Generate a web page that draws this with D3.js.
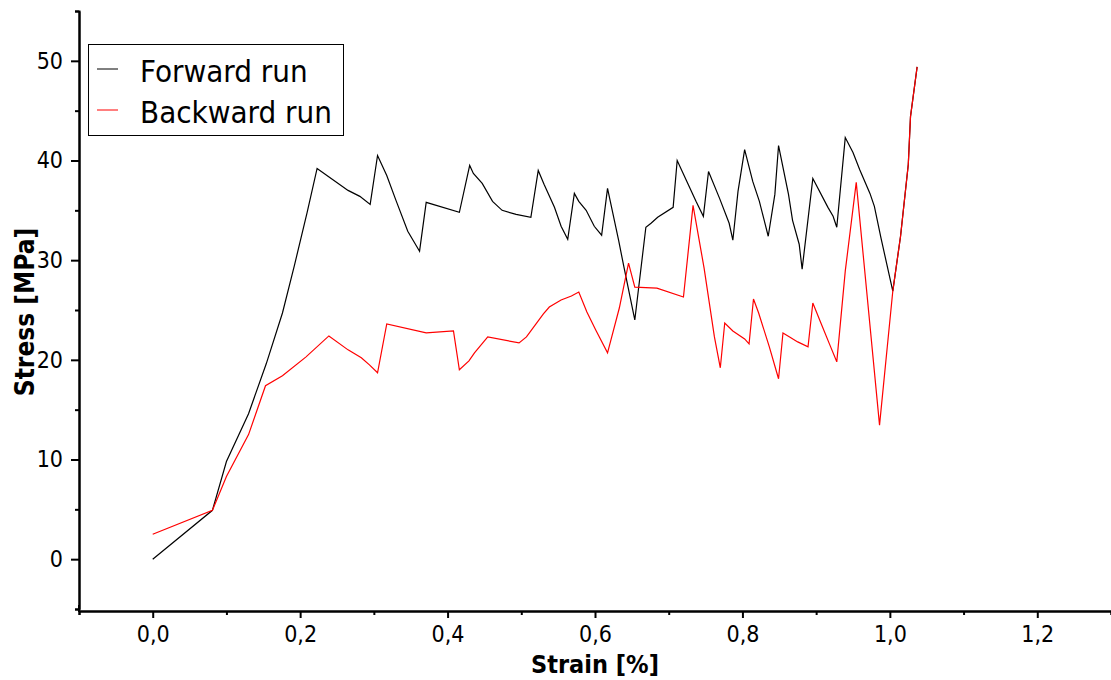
<!DOCTYPE html>
<html>
<head>
<meta charset="utf-8">
<script src="https://cdn.jsdelivr.net/npm/d3@7"></script>
<style>
  body { margin: 0; background: #fff; }
  svg { display: block; font-family: "DejaVu Sans Condensed", "DejaVu Sans", sans-serif; }
</style>
</head>
<body>
<div id="chart"></div>
<script>
// stress-strain curves, forward and backward run
var forwardStrain = [0, 0.081, 0.100, 0.130, 0.154, 0.176, 0.192, 0.2095, 0.223, 0.244, 0.265, 0.281, 0.295,
  0.305, 0.3175, 0.330, 0.346, 0.362, 0.371, 0.416, 0.430, 0.435, 0.447, 0.461, 0.474, 0.493, 0.513,
  0.523, 0.531, 0.545, 0.554, 0.563, 0.572, 0.578, 0.588, 0.599, 0.609, 0.617, 0.632, 0.639, 0.654,
  0.669, 0.676, 0.685, 0.706, 0.7115, 0.724, 0.737, 0.747, 0.754, 0.769, 0.782, 0.787, 0.794, 0.803,
  0.814, 0.823, 0.835, 0.844, 0.849, 0.8625, 0.868, 0.877, 0.881, 0.8955, 0.916, 0.923, 0.928, 0.9395,
  0.950, 0.959, 0.973, 0.979, 0.988, 1.004, 1.0145, 1.025, 1.028, 1.037];
var forwardStress = [0, 4.9, 9.8, 14.6, 19.6, 24.7, 29.4, 34.8, 39.2, 38.1, 37.0, 36.4, 35.6,
  40.5, 38.5, 36.0, 32.9, 30.9, 35.8, 34.8, 39.5, 38.7, 37.7, 35.9, 35.0, 34.6, 34.3,
  39.0, 37.6, 35.3, 33.4, 32.1, 36.7, 35.9, 35.0, 33.4, 32.5, 37.2, 32.0, 29.4, 24.0,
  33.3, 33.7, 34.3, 35.3, 40.0, 38.0, 35.9, 34.4, 38.9, 36.2, 33.7, 32.0, 36.9, 41.1,
  37.9, 35.9, 32.4, 36.6, 41.5, 36.6, 34.0, 31.6, 29.1, 38.2, 35.3, 34.4, 33.3, 42.3,
  40.8, 39.1, 36.7, 35.4, 32.2, 26.9, 32.4, 39.6, 44.4, 49.4];

var backwardStrain = [0, 0.081, 0.100, 0.130, 0.153, 0.176, 0.208, 0.239, 0.265, 0.283, 0.294, 0.305,
  0.3175, 0.371, 0.408, 0.416, 0.429, 0.4365, 0.4545, 0.497, 0.507, 0.522, 0.530, 0.538, 0.554, 0.568,
  0.578, 0.589, 0.601, 0.617, 0.633, 0.6455, 0.654, 0.684, 0.720, 0.733, 0.748, 0.762, 0.770, 0.776,
  0.787, 0.803, 0.809, 0.815, 0.822, 0.8365, 0.849, 0.855, 0.864, 0.875, 0.889, 0.8955, 0.907, 0.918,
  0.928, 0.9395, 0.9544, 0.986, 1.004, 1.0145, 1.025, 1.028, 1.037];
var backwardStress = [2.5, 4.9, 8.3, 12.5, 17.4, 18.4, 20.3, 22.4, 21.0, 20.2, 19.5, 18.7,
  23.6, 22.7, 22.9, 19.0, 19.9, 20.7, 22.3, 21.7, 22.3, 23.8, 24.6, 25.3, 26.0, 26.4,
  26.8, 24.8, 23.0, 20.7, 25.2, 29.7, 27.3, 27.2, 26.3, 35.5, 29.2, 22.3, 19.2, 23.7,
  22.9, 22.1, 21.6, 26.1, 24.7, 21.3, 18.1, 22.7, 22.3, 21.8, 21.3, 25.7, 23.6, 21.6,
  19.8, 28.9, 37.8, 13.45, 26.9, 32.4, 39.6, 44.4, 49.4];

var seriesNames = ["Forward run", "Backward run"];
var seriesColors = ["#000000", "#ff0000"];

var xMajor = [0, 0.2, 0.4, 0.6, 0.8, 1.0, 1.2];
var xMinor = [-0.1, 0.1, 0.3, 0.5, 0.7, 0.9, 1.1, 1.3];
var yMajor = [0, 10, 20, 30, 40, 50];
var yMinor = [-5, 5, 15, 25, 35, 45, 55];

var width = 1111, height = 680;

var svg = d3.select("#chart").append("svg")
  .attr("width", width)
  .attr("height", height);

var x = d3.scaleLinear().domain([-0.1, 1.3]).range([79, 1111]);
var y = d3.scaleLinear().domain([-5, 55]).range([609, 11]);

var comma = d3.formatLocale({ decimal: ",", thousands: ".", grouping: [3], currency: ["", ""] });
var fmtX = comma.format(".1f");

// minor ticks first, then the labelled ones
svg.append("g")
  .attr("transform", "translate(0,611)")
  .call(d3.axisBottom(x).tickValues(xMinor).tickSize(4).tickFormat(""));
svg.append("g")
  .attr("class", "xaxis")
  .attr("transform", "translate(0,611)")
  .call(d3.axisBottom(x).tickValues(xMajor).tickSize(7).tickSizeOuter(0).tickPadding(8).tickFormat(fmtX));

svg.append("g")
  .attr("transform", "translate(79,0)")
  .call(d3.axisLeft(y).tickValues(yMinor).tickSize(4).tickFormat(""));
svg.append("g")
  .attr("class", "yaxis")
  .attr("transform", "translate(79,0)")
  .call(d3.axisLeft(y).tickValues(yMajor).tickSize(8).tickSizeOuter(0).tickPadding(8));

svg.selectAll(".domain").attr("stroke", "#000").attr("stroke-width", 2);
svg.selectAll(".tick line").attr("stroke", "#000").attr("stroke-width", 2);
svg.selectAll(".tick text")
  .attr("fill", "#000")
  .style("font-family", "'DejaVu Sans Condensed', 'DejaVu Sans', sans-serif")
  .style("font-size", "23px");

// y axis line reaches down to the x axis
svg.append("line")
  .attr("x1", 79).attr("x2", 79)
  .attr("y1", 605).attr("y2", 612)
  .attr("stroke", "#000").attr("stroke-width", 2);

// axis titles
svg.append("text")
  .attr("x", 595).attr("y", 673)
  .attr("text-anchor", "middle")
  .style("font-size", "25px").style("font-weight", "bold")
  .text("Strain [%]");

svg.append("text")
  .attr("transform", "translate(34,312) rotate(-90)")
  .attr("text-anchor", "middle")
  .style("font-size", "26px").style("font-weight", "bold")
  .text("Stress [MPa]");

var line = d3.line()
  .x(function(d) { return x(d[0]); })
  .y(function(d) { return y(d[1]); });

var fwd = d3.zip(forwardStrain, forwardStress);
var bwd = d3.zip(backwardStrain, backwardStress);

svg.append("path").datum(fwd)
  .attr("d", line)
  .attr("fill", "none")
  .attr("stroke", seriesColors[0])
  .attr("stroke-width", 1.2);

svg.append("path").datum(bwd)
  .attr("d", line)
  .attr("fill", "none")
  .attr("stroke", seriesColors[1])
  .attr("stroke-width", 1.2);

// legend
var legend = svg.append("g");
legend.append("rect")
  .attr("x", 88.5).attr("y", 44.5)
  .attr("width", 255).attr("height", 91)
  .attr("fill", "#fff").attr("stroke", "#000").attr("stroke-width", 1);

seriesNames.forEach(function(name, i) {
  var ly = 69 + i * 41;
  legend.append("line")
    .attr("x1", 97).attr("x2", 118)
    .attr("y1", ly).attr("y2", ly)
    .attr("stroke", seriesColors[i]).attr("stroke-width", 1);
  legend.append("text")
    .attr("x", 140).attr("y", ly + 13)
    .style("font-size", "31px")
    .text(name);
});
</script>
</body>
</html>
